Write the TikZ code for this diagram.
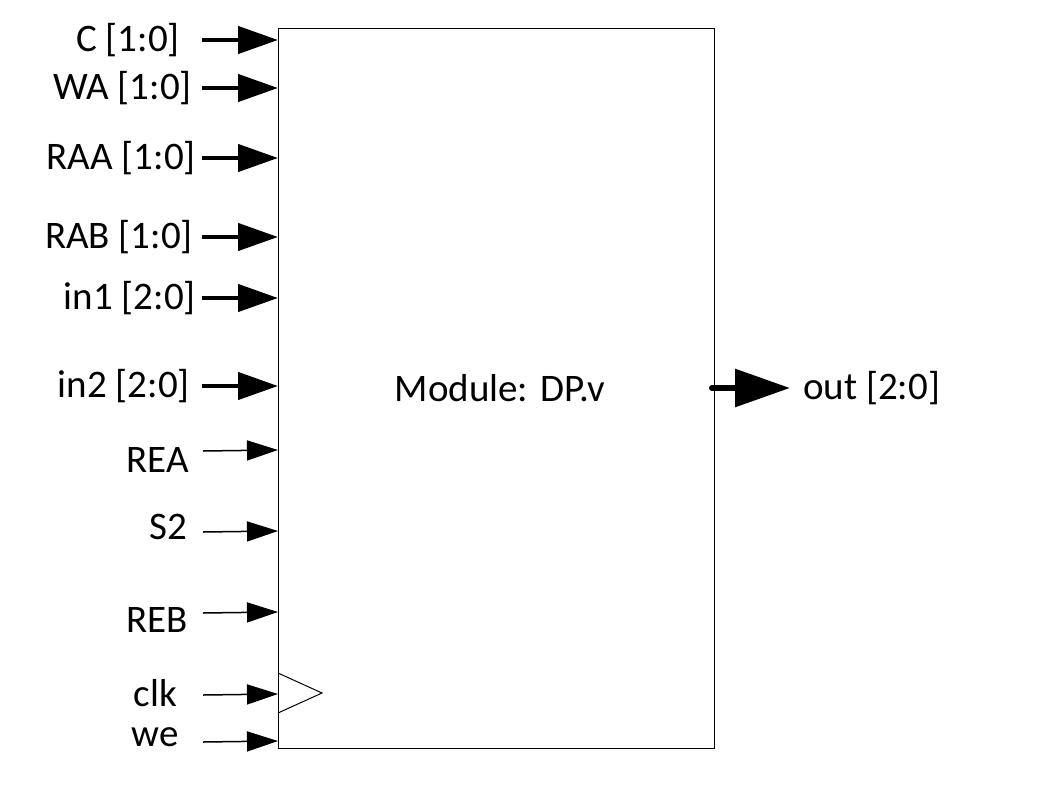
\documentclass[tikz,border=0pt]{standalone}
\usepackage{fontspec}
\setmainfont{Carlito}
\usetikzlibrary{arrows.meta}

\begin{document}
\begin{tikzpicture}[x=1pt,y=-1pt,
		bus/.style={line width=4.5pt,-{Triangle[length=40pt,width=27pt]}},
		wire/.style={line width=1.5pt,-{Triangle[length=31pt,width=20pt]}},
		outbus/.style={line width=6pt,-{Triangle[length=55pt,width=37pt]}},
		lbl/.style={anchor=east,inner sep=0pt,font=\fontsize{39}{46}\selectfont}]
		\useasboundingbox (0,0) rectangle (1056,792);
		
		% module box
		\node[draw,line width=1.3pt,minimum width=436pt,minimum height=720pt,inner sep=0pt,anchor=north west] (dp) at (278,28) {};
		\node[lbl,anchor=center] (name) at (500,388) {Module: DP.v};
		
		% clock mark
		\draw[line width=1pt] (278,673) to (322,693) to (278,713);
		
		% inputs
		\node[lbl] (C) at (180,40) {C [1:0]};
		\node[lbl] (WA) at (192,88) {WA [1:0]};
		\node[lbl] (RAA) at (196,158) {RAA [1:0]};
		\node[lbl] (RAB) at (193,237) {RAB [1:0]};
		\node[lbl] (in1) at (196,298) {in1 [2:0]};
		\node[lbl] (in2) at (190,386) {in2 [2:0]};
		\node[lbl] (REA) at (189,460) {REA};
		\node[lbl] (S2) at (187,527) {S2};
		\node[lbl] (REB) at (188,620) {REB};
		\node[lbl] (clk) at (177,693) {clk};
		\node[lbl] (we) at (179,737) {we};
		
		\coordinate (Cs) at (202,40);   \coordinate (Ce) at (278,40);
		\coordinate (WAs) at (202,88);  \coordinate (WAe) at (278,88);
		\coordinate (RAAs) at (202,158); \coordinate (RAAe) at (278,158);
		\coordinate (RABs) at (202,237); \coordinate (RABe) at (278,237);
		\coordinate (in1s) at (202,298); \coordinate (in1e) at (278,298);
		\coordinate (in2s) at (202,386); \coordinate (in2e) at (278,386);
		\coordinate (REAs) at (203,451); \coordinate (REAe) at (278,450);
		\coordinate (S2s) at (203,532); \coordinate (S2e) at (278,531);
		\coordinate (REBs) at (203,613); \coordinate (REBe) at (278,612);
		\coordinate (clks) at (203,695); \coordinate (clke) at (278,694);
		\coordinate (wes) at (203,742); \coordinate (wee) at (278,741);
		
		\draw[bus] (Cs) to (Ce);
		\draw[bus] (WAs) to (WAe);
		\draw[bus] (RAAs) to (RAAe);
		\draw[bus] (RABs) to (RABe);
		\draw[bus] (in1s) to (in1e);
		\draw[bus] (in2s) to (in2e);
		\draw[wire] (REAs) to (REAe);
		\draw[wire] (S2s) to (S2e);
		\draw[wire] (REBs) to (REBe);
		\draw[wire] (clks) to (clke);
		\draw[wire] (wes) to (wee);
		
		% output
		\coordinate (outs) at (712,388);
		\coordinate (oute) at (790,388);
		\draw[outbus,line cap=round] (outs) to (oute);
		\node[lbl,anchor=west] (out) at (803,388) {out [2:0]};
	\end{tikzpicture}
\end{document}
